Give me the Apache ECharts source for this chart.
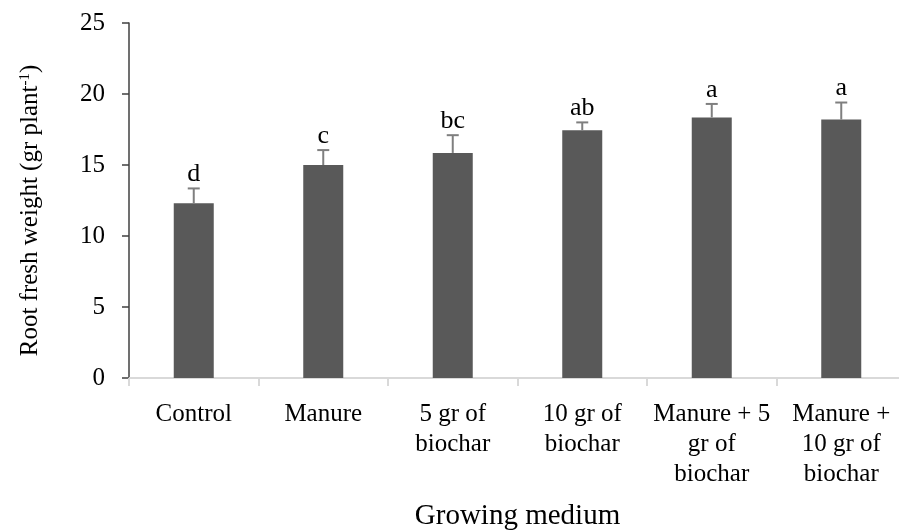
<!DOCTYPE html>
<html>
<head>
<meta charset="utf-8">
<script src="https://cdn.jsdelivr.net/npm/echarts@6/dist/echarts.min.js"></script>
<style>html,body{margin:0;padding:0;background:#fff;overflow:hidden}#c{width:910px;height:531px}</style>
</head>
<body>
<div id="c"></div>
<script>
var categories = ['Control', 'Manure', '5 gr of\nbiochar', '10 gr of\nbiochar', 'Manure + 5\ngr of\nbiochar', 'Manure +\n10 gr of\nbiochar'];
var means = [12.3, 15.0, 15.85, 17.45, 18.35, 18.2];
var errors = [1.05, 1.05, 1.25, 0.55, 0.95, 1.2];
var letters = ['d', 'c', 'bc', 'ab', 'a', 'a'];
var yTicks = [0, 5, 10, 15, 20, 25];

var FONT = '"Liberation Serif", "Times New Roman", serif';
var chart = echarts.init(document.getElementById('c'));
var errData = means.map(function (m, i) { return [i, m, errors[i]]; });

chart.setOption({
  animation: false,
  grid: { left: 129, top: 23, width: 777, height: 355, containLabel: false, outerBoundsMode: 'none' },
  xAxis: {
    type: 'category',
    data: categories,
    axisLine: { lineStyle: { color: '#d9d9d9', width: 2 } },
    axisTick: { show: true, length: 8, lineStyle: { color: '#d9d9d9', width: 2 } },
    axisLabel: { color: '#000', fontFamily: FONT, fontSize: 25, lineHeight: 30, margin: 21, interval: 0 },
    name: 'Growing medium',
    nameLocation: 'middle',
    nameGap: 124,
    nameTextStyle: { color: '#000', fontFamily: FONT, fontSize: 29 }
  },
  yAxis: {
    type: 'value',
    min: yTicks[0],
    max: yTicks[yTicks.length - 1],
    interval: 5,
    splitLine: { show: false },
    axisLine: { show: true, lineStyle: { color: '#404040', width: 1.5 } },
    axisTick: { show: true, length: 7, lineStyle: { color: '#404040', width: 1.5 } },
    axisLabel: { color: '#000', fontFamily: FONT, fontSize: 25, margin: 24 },
    name: '{a|Root fresh weight (gr plant}{s|-1}{a|)}',
    nameLocation: 'middle',
    nameGap: 86,
    nameTextStyle: {
      color: '#000', fontFamily: FONT, fontSize: 25,
      padding: [0, 20, 0, 0],
      rich: {
        a: { fontFamily: FONT, fontSize: 25, color: '#000' },
        s: { fontFamily: FONT, fontSize: 15, color: '#000', verticalAlign: 'top', padding: [0, 0, 10, 0] }
      }
    }
  },
  series: [
    {
      type: 'bar',
      data: means,
      barWidth: 40,
      itemStyle: { color: '#595959' }
    },
    {
      type: 'custom',
      data: errData,
      z: 5,
      renderItem: function (params, api) {
        var i = api.value(0), m = api.value(1), e = api.value(2);
        var base = api.coord([i, m]);
        var top = api.coord([i, m + e]);
        var hw = 6;
        return {
          type: 'group',
          children: [
            { type: 'line', shape: { x1: base[0], y1: base[1], x2: top[0], y2: top[1] }, style: { stroke: '#7f7f7f', lineWidth: 2 } },
            { type: 'line', shape: { x1: top[0] - hw, y1: top[1], x2: top[0] + hw, y2: top[1] }, style: { stroke: '#7f7f7f', lineWidth: 2 } },
            { type: 'text', x: top[0], y: top[1] - 1, style: { text: letters[params.dataIndex], fill: '#000', font: '26px ' + FONT, textAlign: 'center', textVerticalAlign: 'bottom' } }
          ]
        };
      }
    }
  ]
});
</script>
</body>
</html>
